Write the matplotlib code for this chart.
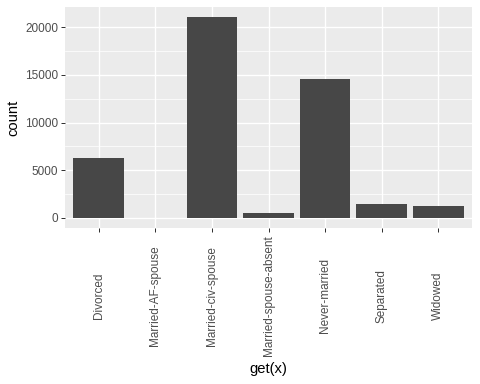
import matplotlib
matplotlib.use("Agg")
import matplotlib.pyplot as plt
from matplotlib.ticker import MultipleLocator

categories = ["Divorced", "Married-AF-spouse", "Married-civ-spouse",
              "Married-spouse-absent", "Never-married", "Separated", "Widowed"]
counts = [6297, 37, 21055, 552, 14598, 1411, 1277]

plt.rcParams["font.family"] = ["Liberation Sans", "DejaVu Sans"]

W, H = 480, 384
fig = plt.figure(figsize=(W / 72, H / 72), dpi=72)
ax = fig.add_axes([65 / W, 1 - 228 / H, (472 - 65) / W, (228 - 7) / H])

ax.set_facecolor("#EBEBEB")
for s in ax.spines.values():
    s.set_visible(False)

x = range(len(categories))
ax.bar(x, counts, width=0.9, color="#474747", zorder=3)

top = max(counts)
ax.set_ylim(-0.05 * top, 1.05 * top)
ax.set_xlim(-0.6, len(categories) - 0.4)

ax.yaxis.set_major_locator(MultipleLocator(5000))
ax.yaxis.set_minor_locator(MultipleLocator(2500))
ax.grid(which="major", color="white", linewidth=1.4, zorder=1)
ax.grid(which="minor", axis="y", color="white", linewidth=0.7, zorder=1)
ax.tick_params(which="minor", length=0)

ax.set_xticks(list(x))
ax.set_xticklabels(categories, rotation=90, va="center", ha="center")
ax.tick_params(axis="both", which="major", length=3.7, width=1.0,
               color="#333333", labelsize=11.7, labelcolor="#4D4D4D")
ax.tick_params(axis="x", pad=64)
ax.tick_params(axis="y", pad=3)

ax.set_xlabel("get(x)", fontsize=14.7, labelpad=6)
ax.set_ylabel("count", fontsize=14.7, labelpad=5)

fig.savefig("out.png", dpi=72)
